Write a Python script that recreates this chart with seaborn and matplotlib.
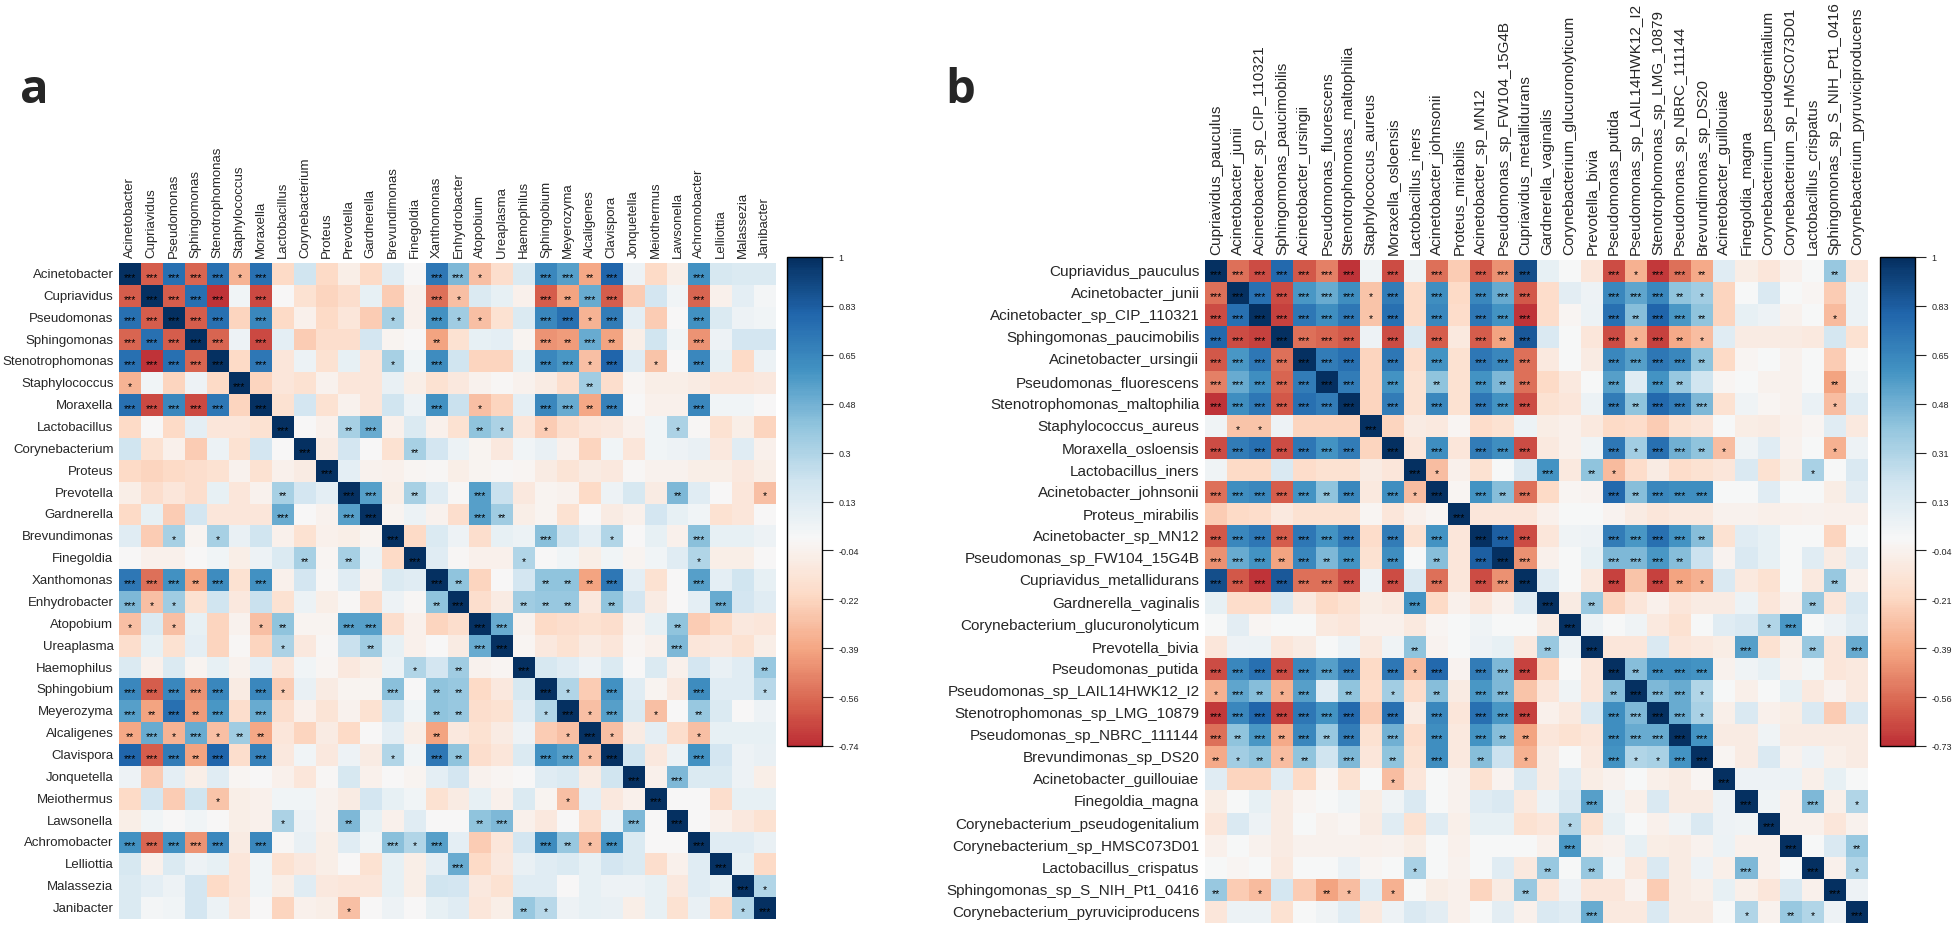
import numpy as np
import pandas as pd
import matplotlib
matplotlib.use("Agg")
import matplotlib.pyplot as plt
from matplotlib.colors import ListedColormap
import seaborn as sns

# Row / column names of the two correlation matrices
genera = ["Acinetobacter", "Cupriavidus", "Pseudomonas", "Sphingomonas", "Stenotrophomonas",
          "Staphylococcus", "Moraxella", "Lactobacillus", "Corynebacterium", "Proteus",
          "Prevotella", "Gardnerella", "Brevundimonas", "Finegoldia", "Xanthomonas",
          "Enhydrobacter", "Atopobium", "Ureaplasma", "Haemophilus", "Sphingobium",
          "Meyerozyma", "Alcaligenes", "Clavispora", "Jonquetella", "Meiothermus",
          "Lawsonella", "Achromobacter", "Lelliottia", "Malassezia", "Janibacter"]

species = ["Cupriavidus_pauculus", "Acinetobacter_junii", "Acinetobacter_sp_CIP_110321",
           "Sphingomonas_paucimobilis", "Acinetobacter_ursingii", "Pseudomonas_fluorescens",
           "Stenotrophomonas_maltophilia", "Staphylococcus_aureus", "Moraxella_osloensis",
           "Lactobacillus_iners", "Acinetobacter_johnsonii", "Proteus_mirabilis",
           "Acinetobacter_sp_MN12", "Pseudomonas_sp_FW104_15G4B", "Cupriavidus_metallidurans",
           "Gardnerella_vaginalis", "Corynebacterium_glucuronolyticum", "Prevotella_bivia",
           "Pseudomonas_putida", "Pseudomonas_sp_LAIL14HWK12_I2", "Stenotrophomonas_sp_LMG_10879",
           "Pseudomonas_sp_NBRC_111144", "Brevundimonas_sp_DS20", "Acinetobacter_guillouiae",
           "Finegoldia_magna", "Corynebacterium_pseudogenitalium", "Corynebacterium_sp_HMSC073D01",
           "Lactobacillus_crispatus", "Sphingomonas_sp_S_NIH_Pt1_0416",
           "Corynebacterium_pyruviciproducens"]

# Lower triangle of panel a (row i holds columns 0..i-1)
corr_a_lower = [
    [],
    [-0.60],
    [0.75, -0.60],
    [-0.58, 0.75, -0.60],
    [0.75, -0.72, 0.75, -0.58],
    [-0.35, 0.03, -0.22, 0.05, -0.20],
    [0.75, -0.65, 0.65, -0.65, 0.72, -0.22],
    [-0.20, 0.00, -0.20, 0.10, -0.12, -0.12, -0.15],
    [0.20, -0.15, -0.05, -0.25, 0.06, -0.15, 0.18, 0.00],
    [-0.20, -0.22, -0.20, -0.18, -0.15, -0.04, -0.15, -0.05, -0.08],
    [-0.07, -0.18, -0.12, -0.18, 0.08, -0.12, -0.04, 0.33, 0.18, 0.10],
    [-0.20, 0.08, -0.25, 0.18, -0.12, -0.12, -0.12, 0.50, 0.00, -0.04, 0.55],
    [0.12, -0.25, 0.33, -0.03, 0.33, 0.07, 0.20, -0.05, -0.15, -0.05, -0.07, -0.03],
    [0.00, -0.05, -0.05, 0.00, 0.04, -0.07, 0.05, 0.15, 0.33, -0.02, 0.33, 0.06, -0.20],
    [0.72, -0.55, 0.60, -0.40, 0.62, -0.15, 0.60, -0.05, 0.18, -0.01, 0.12, -0.04, 0.15, 0.12],
    [0.45, -0.30, 0.35, -0.15, 0.20, -0.10, 0.22, -0.15, 0.06, -0.07, -0.01, -0.18, 0.05, -0.01,
     0.40],
    [-0.30, 0.15, -0.30, 0.08, -0.22, -0.04, -0.30, 0.40, -0.03, -0.03, 0.55, 0.55, -0.18, -0.05,
     -0.22, -0.18],
    [-0.18, 0.08, -0.15, 0.10, -0.22, -0.01, -0.22, 0.32, -0.10, -0.01, 0.22, 0.35, 0.08, -0.05,
     0.00, -0.08, 0.50],
    [0.15, -0.05, 0.15, -0.03, 0.08, -0.04, 0.10, -0.12, 0.03, -0.02, -0.10, -0.07, 0.06, 0.30,
     0.18, 0.35, -0.04, -0.02],
    [0.65, -0.60, 0.65, -0.45, 0.65, -0.08, 0.65, -0.25, 0.07, -0.08, -0.03, -0.03, 0.42, 0.00,
     0.40, 0.38, -0.20, -0.10, 0.17],
    [0.55, -0.40, 0.75, -0.42, 0.58, -0.18, 0.50, -0.18, -0.05, -0.14, -0.04, -0.15, 0.20, 0.03,
     0.40, 0.38, -0.18, -0.15, 0.12, 0.30],
    [-0.38, 0.50, -0.35, 0.50, -0.30, 0.35, -0.38, -0.12, -0.22, -0.08, -0.20, 0.00, 0.10, -0.06,
     -0.40, -0.10, -0.15, -0.08, 0.05, -0.25, -0.30],
    [0.80, -0.60, 0.70, -0.40, 0.80, -0.18, 0.68, -0.10, 0.03, -0.10, 0.05, -0.08, 0.30, 0.03,
     0.72, 0.40, -0.18, -0.12, 0.15, 0.60, 0.55, -0.30],
    [0.05, -0.25, 0.10, -0.07, 0.12, -0.02, 0.00, -0.05, -0.12, -0.01, 0.17, -0.05, 0.00, -0.03,
     0.10, 0.18, -0.04, -0.02, 0.00, 0.12, 0.15, -0.08, 0.20],
    [-0.20, 0.18, -0.25, 0.20, -0.28, -0.06, -0.05, 0.04, 0.04, -0.04, -0.08, 0.18, 0.08, 0.03,
     -0.15, -0.08, 0.08, -0.05, 0.15, -0.03, -0.30, 0.10, -0.10, -0.05],
    [-0.07, 0.04, 0.00, 0.04, 0.00, -0.06, -0.05, 0.32, 0.05, -0.04, 0.45, 0.08, -0.05, 0.12,
     0.00, 0.00, 0.40, 0.45, -0.05, -0.10, 0.00, -0.18, 0.06, 0.45, 0.00],
    [0.60, -0.58, 0.60, -0.45, 0.65, -0.08, 0.65, -0.01, 0.07, -0.07, 0.12, 0.03, 0.42, 0.30,
     0.55, 0.10, -0.25, -0.12, 0.18, 0.62, 0.38, -0.30, 0.60, 0.15, 0.00, 0.00],
    [0.17, -0.05, 0.15, 0.05, 0.08, -0.12, 0.04, -0.15, -0.10, -0.07, 0.00, -0.15, 0.08, -0.06,
     0.10, 0.50, -0.20, -0.10, 0.07, 0.12, 0.15, 0.08, 0.18, 0.15, -0.18, -0.05, 0.12],
    [0.15, 0.10, 0.05, 0.18, -0.20, -0.12, 0.04, -0.07, 0.12, -0.10, -0.12, -0.12, 0.08, -0.06,
     0.20, 0.18, -0.10, -0.15, 0.12, 0.12, 0.00, 0.08, 0.05, 0.05, 0.08, -0.10, 0.12, 0.08],
    [0.15, 0.02, 0.03, 0.18, 0.06, -0.10, 0.00, -0.22, -0.05, -0.06, -0.30, 0.00, 0.05, 0.00,
     0.08, 0.12, -0.12, -0.06, 0.38, 0.28, 0.05, 0.08, 0.07, -0.06, 0.08, -0.15, 0.07, -0.20, 0.30],
]

# Number of significance stars, same lower-triangle layout
stars_a_lower = [
    "", "3", "33", "333", "3333", "10000", "333330", "0000000", "00000000", "000000000",
    "0000000200", "00000003003", "001010000000", "0000000020200", "33323030000000",
    "311000000000002", "1010001200330000", "00000001000200003", "000000000000010200",
    "3333303100003022000", "32323030000000220001", "231312200000002000001",
    "3332303000001032000331", "00000000000000000000000", "000010000000000000001000",
    "0000000100200000230000030", "33333030000031300003213000",
    "000000000000000300000000000", "0000000000000000000000000000",
    "00000000001000000021000000001",
]

corr_b_lower = [
    [],
    [-0.55],
    [-0.65, 0.75],
    [0.78, -0.65, -0.68],
    [-0.62, 0.58, 0.72, -0.55],
    [-0.50, 0.50, 0.62, -0.58, 0.70],
    [-0.72, 0.62, 0.72, -0.62, 0.75, 0.70],
    [0.04, -0.28, -0.28, 0.05, -0.22, -0.22, -0.22],
    [-0.65, 0.70, 0.75, -0.65, 0.72, 0.60, 0.70, -0.22],
    [0.04, -0.20, -0.20, 0.15, -0.18, -0.15, -0.15, -0.08, -0.12],
    [-0.55, 0.62, 0.65, -0.60, 0.60, 0.40, 0.65, -0.10, 0.62, -0.30],
    [-0.25, -0.20, -0.18, -0.10, -0.15, -0.15, -0.15, -0.02, -0.12, -0.05, -0.02],
    [-0.62, 0.65, 0.72, -0.60, 0.72, 0.60, 0.72, -0.18, 0.70, -0.15, 0.60, -0.12],
    [-0.45, 0.50, 0.60, -0.40, 0.65, 0.45, 0.60, -0.15, 0.62, 0.00, 0.42, -0.12, 0.82],
    [0.88, -0.62, -0.72, 0.85, -0.55, -0.55, -0.65, 0.06, -0.65, 0.15, -0.55, -0.12, -0.65, -0.45],
    [0.08, -0.18, -0.18, 0.15, -0.10, -0.20, -0.15, -0.07, -0.10, 0.60, -0.20, -0.05, -0.12, -0.05,
     0.12],
    [0.00, 0.10, -0.02, 0.00, 0.00, -0.10, -0.12, -0.05, -0.05, -0.10, -0.02, 0.00, 0.04, 0.00,
     0.00, -0.08],
    [-0.12, 0.05, 0.06, -0.12, -0.08, 0.00, 0.06, -0.10, 0.04, 0.40, -0.03, 0.00, 0.05, 0.08,
     -0.10, 0.38, 0.06],
    [-0.65, 0.65, 0.75, -0.65, 0.65, 0.55, 0.70, -0.20, 0.72, -0.32, 0.78, -0.03, 0.70, 0.45,
     -0.68, -0.22, 0.00, -0.12],
    [-0.35, 0.52, 0.42, -0.35, 0.55, 0.12, 0.40, -0.18, 0.35, -0.18, 0.42, -0.08, 0.58, 0.45,
     -0.28, -0.12, 0.04, -0.12, 0.42],
    [-0.70, 0.65, 0.80, -0.68, 0.72, 0.60, 0.78, -0.25, 0.75, -0.08, 0.65, -0.12, 0.75, 0.58,
     -0.68, -0.05, -0.10, 0.15, 0.62, 0.45],
    [-0.55, 0.40, 0.58, -0.38, 0.65, 0.38, 0.70, -0.15, 0.48, -0.18, 0.62, -0.10, 0.60, 0.42,
     -0.40, -0.12, -0.15, -0.12, 0.62, 0.50, 0.50],
    [-0.38, 0.35, 0.40, -0.30, 0.40, 0.20, 0.45, -0.12, 0.40, -0.15, 0.62, -0.10, 0.42, 0.22,
     -0.35, -0.08, 0.00, -0.10, 0.60, 0.30, 0.32, 0.60],
    [0.12, -0.22, -0.22, 0.12, -0.20, -0.02, -0.15, 0.00, -0.30, -0.12, 0.00, -0.04, -0.15, -0.03,
     0.15, -0.08, 0.12, -0.07, -0.04, 0.00, -0.06, -0.08, -0.02],
    [-0.07, 0.00, 0.08, -0.08, -0.02, 0.00, 0.04, -0.07, 0.04, 0.15, 0.00, -0.04, 0.12, 0.15,
     -0.10, 0.06, 0.15, 0.55, 0.04, -0.06, 0.15, -0.08, -0.08, 0.05],
    [-0.12, 0.15, 0.05, -0.08, 0.00, -0.04, -0.02, -0.08, 0.12, -0.15, 0.12, -0.06, 0.08, 0.08,
     -0.15, -0.12, 0.30, -0.15, 0.08, 0.00, -0.05, 0.04, 0.15, 0.05, 0.04],
    [-0.05, 0.00, -0.04, -0.08, -0.04, -0.04, -0.04, -0.05, -0.04, -0.07, 0.00, -0.05, 0.00, 0.00,
     0.00, -0.05, 0.58, -0.06, -0.04, 0.08, -0.07, -0.08, -0.04, 0.06, -0.05, -0.05],
    [0.00, -0.02, 0.00, -0.10, 0.00, 0.00, 0.07, -0.02, 0.00, 0.32, 0.00, -0.04, 0.00, 0.12,
     -0.10, 0.38, 0.00, 0.38, 0.03, -0.10, 0.15, -0.08, 0.05, -0.06, 0.45, -0.05, 0.00],
    [0.38, -0.25, -0.32, 0.18, -0.25, -0.40, -0.30, 0.12, -0.35, 0.00, -0.07, -0.05, -0.22, -0.08,
     0.38, -0.12, 0.05, -0.12, -0.12, -0.03, -0.25, -0.08, -0.06, 0.08, -0.06, -0.12, 0.15, -0.05],
    [-0.12, 0.06, 0.06, -0.15, 0.00, 0.04, 0.12, -0.10, 0.05, 0.15, 0.10, -0.05, 0.00, 0.10,
     -0.05, 0.15, 0.12, 0.50, -0.10, -0.10, 0.15, -0.08, -0.08, 0.00, 0.30, -0.04, 0.38, 0.30, 0.05],
]

stars_b_lower = [
    "", "3", "33", "333", "3333", "33333", "333333", "0110000", "33333330", "000000000",
    "3333323031", "00000000000", "333333303030", "3332323030203", "33333330303033",
    "000000000300000", "0000000000000000", "00000000020000020", "333333303130333000",
    "1321302010203300002", "33333330303033300033", "323232303030322000333",
    "2121203020302010003113", "00000000100000000000000", "000000000000000003000000",
    "0000000000000000100000000", "00000000000000003000000000",
    "000000000100000202000000300", "2010021010000020000000000000",
    "00000000000000000300000010210",
]

# lower ends of the two colour bars (upper end is 1)
cbar_min_a = -0.7382
cbar_min_b = -0.733


def square(lower, diag):
    n = len(lower)
    m = [[diag] * n for _ in range(n)]
    for i, row in enumerate(lower):
        assert len(row) == i, (i, len(row))
        for j, v in enumerate(row):
            m[i][j] = v
            m[j][i] = v
    return m


def draw_panel(fig, rect, cbar_rect, labels, corr_lower, stars_lower, vmin, label_size):
    corr = pd.DataFrame(square(corr_lower, 1.0), index=labels, columns=labels)
    stars = np.array(square([["*" * int(c) for c in s] for s in stars_lower], "***"))

    # RdBu centred at 0, cut at the lowest observed correlation
    cmap = ListedColormap(plt.cm.RdBu(np.linspace((vmin + 1) / 2, 1, 256)))

    ax = fig.add_axes(rect)
    cax = fig.add_axes(cbar_rect)
    sns.heatmap(corr, ax=ax, cbar_ax=cax, cmap=cmap, vmin=vmin, vmax=1,
                annot=stars, fmt="", annot_kws={"color": "black", "fontsize": 7.5},
                xticklabels=labels, yticklabels=labels)

    # nudge stars down a little, asterisks sit high in the glyph box
    for t in ax.texts:
        x, y = t.get_position()
        t.set_position((x, y + 0.13))

    ax.xaxis.tick_top()
    ax.tick_params(length=0, pad=4)
    plt.setp(ax.get_xticklabels(), rotation=90, fontsize=label_size)
    plt.setp(ax.get_yticklabels(), rotation=0, fontsize=label_size)

    ticks = np.linspace(vmin, 1, 11)
    cbar = ax.collections[0].colorbar
    cbar.set_ticks(ticks)
    cbar.set_ticklabels([f"{round(t, 2):g}" for t in ticks])
    cbar.outline.set_linewidth(1.0)
    cbar.outline.set_edgecolor("black")
    cax.tick_params(length=8, width=0.8, labelsize=6.5, pad=4)
    return ax


sns.set_style("white")
plt.rcParams["font.family"] = ["Liberation Sans", "DejaVu Sans"]

W, H = 1960, 928
fig = plt.figure(figsize=(W / 100, H / 100), dpi=100)

draw_panel(fig, [119 / W, 1 - 920 / H, 657 / W, 656 / H],
           [787 / W, 1 - 747 / H, 35 / W, 489 / H],
           genera, corr_a_lower, stars_a_lower, cbar_min_a, 9.5)
draw_panel(fig, [1205 / W, 1 - 924 / H, 663 / W, 663 / H],
           [1880 / W, 1 - 747 / H, 35 / W, 489 / H],
           species, corr_b_lower, stars_b_lower, cbar_min_b, 11)

fig.text(20 / W, 1 - 103 / H, "a", fontsize=34, fontweight="bold",
         family=["Open Sans", "DejaVu Sans"], va="baseline", ha="left")
fig.text(945 / W, 1 - 103 / H, "b", fontsize=34, fontweight="bold",
         family=["Open Sans", "DejaVu Sans"], va="baseline", ha="left")

fig.savefig("out.png", dpi=100)
